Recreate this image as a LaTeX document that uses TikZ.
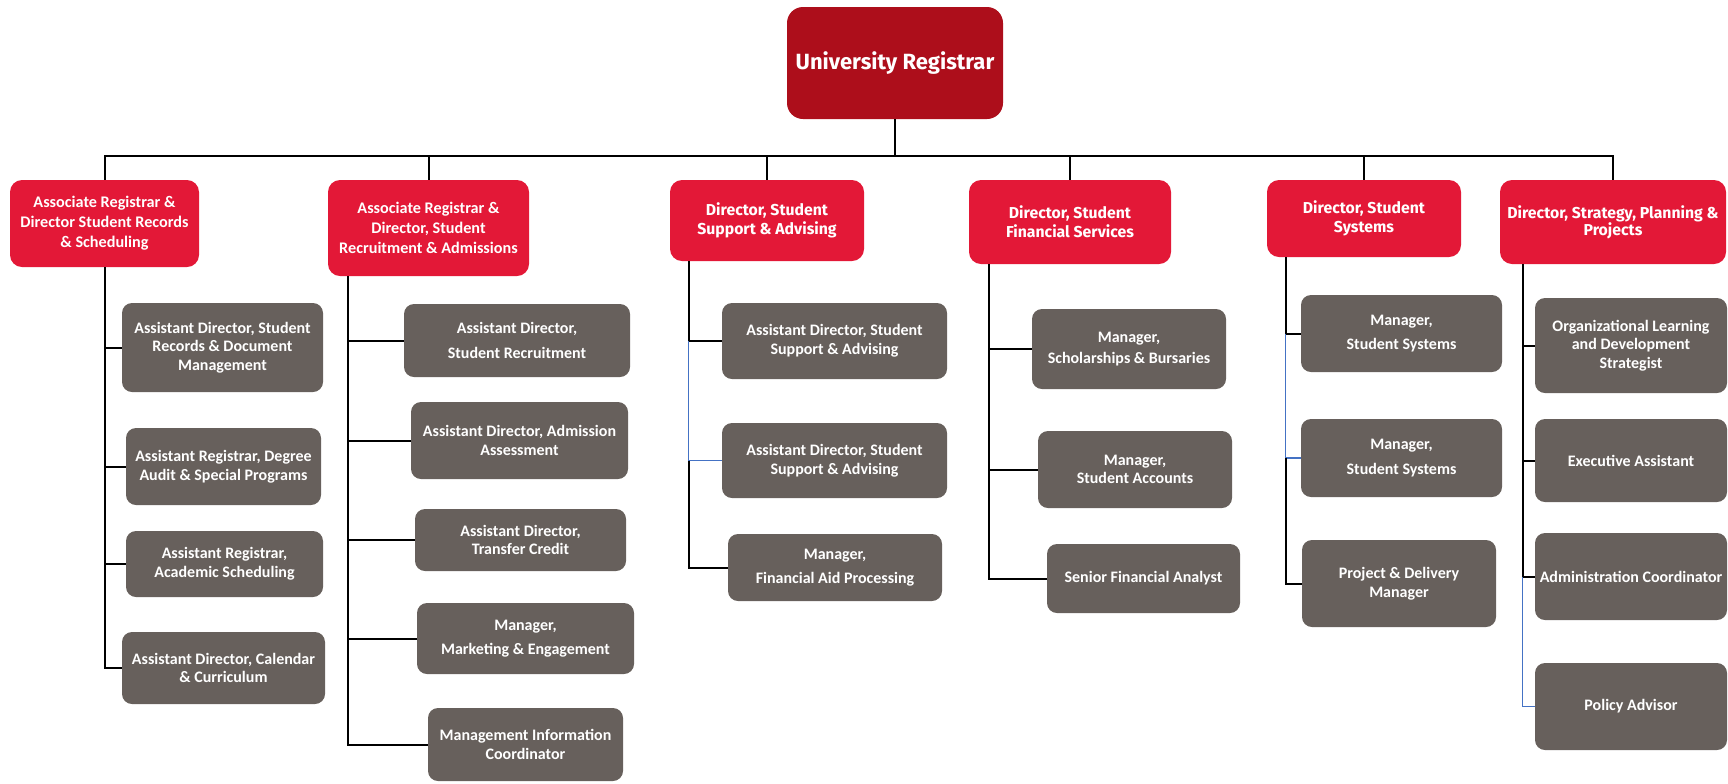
\documentclass[tikz,border=0pt]{standalone}
\usepackage{fontspec}
\setmainfont{Carlito}
\newfontfamily\plexfont{Fira Sans}
\usepackage{xcolor}
\definecolor{chiefred}{HTML}{AD0E1B}
\definecolor{dirred}{HTML}{E31837}
\definecolor{staffgray}{HTML}{67605C}
\definecolor{linkblue}{HTML}{4472C4}

\begin{document}
\begin{tikzpicture}[x=0.5pt,y=-0.5pt]
\tikzstyle{chief} = [rectangle, fill=chiefred, rounded corners=8pt, text=white,
align=center, inner sep=1pt, font=\plexfont\bfseries\fontsize{11}{13}\selectfont]
\tikzstyle{director} = [rectangle, fill=dirred, rounded corners=6pt, text=white,
align=center, inner sep=1pt, font=\bfseries\fontsize{8.1}{10}\selectfont]
\tikzstyle{director_plex} = [director, font=\plexfont\bfseries\fontsize{7.9}{9.5}\selectfont]
\tikzstyle{staff} = [rectangle, fill=staffgray, rounded corners=5pt, text=white,
align=center, inner sep=1pt, font=\bfseries\fontsize{8}{9.3}\selectfont]
\tikzstyle{line} = [draw, line width=1pt];
\tikzstyle{blueline} = [draw=linkblue, line width=0.85pt];
\useasboundingbox (0,0) rectangle (1728,783);

\node [chief, minimum width=108pt, minimum height=56pt] (registrar) at (895,63) {University Registrar};

% row 1
\node [director, minimum width=94.5pt, minimum height=43.5pt] (records) at (104.5,223.5)
{Associate Registrar \&\\ Director Student Records\\ \& Scheduling};
\node [director, minimum width=100.5pt, minimum height=48pt] (recruit) at (428.5,228)
{Associate Registrar \&\\ Director, Student\\ Recruitment \& Admissions};
\node [director_plex, minimum width=97pt, minimum height=40.5pt] (support) at (767,220.5)
{Director, Student\\ Support \& Advising};
\node [director_plex, minimum width=101pt, minimum height=42pt] (finance) at (1070,222)
{Director, Student\\ Financial Services};
\node [director_plex, minimum width=97pt, minimum height=38.5pt] (systems) at (1364,218.5)
{Director, Student\\ Systems};
\node [director_plex, minimum width=113pt, minimum height=42pt, font=\plexfont\bfseries\fontsize{7.9}{8.4}\selectfont] (strategy) at (1613,222)
{Director, Strategy, Planning \&\\ Projects};

% records column
\node [staff, minimum width=100.5pt, minimum height=44.5pt] (docs) at (222.5,347.5)
{Assistant Director, Student\\ Records \& Document\\ Management};
\node [staff, minimum width=97.5pt, minimum height=38.5pt] (audit) at (223.5,466.5)
{Assistant Registrar, Degree\\ Audit \& Special Programs};
\node [staff, minimum width=98.5pt, minimum height=33pt] (sched) at (224.5,564)
{Assistant Registrar,\\ Academic Scheduling};
\node [staff, minimum width=101.5pt, minimum height=36pt] (calendar) at (223.5,668)
{Assistant Director, Calendar\\ \& Curriculum};

% recruitment column
\node [staff, minimum width=113pt, minimum height=36.5pt] (recruitment) at (517,340.5)
{Assistant Director,\\[3pt] Student Recruitment};
\node [staff, minimum width=108.5pt, minimum height=38.5pt] (admission) at (519.5,440.5)
{Assistant Director, Admission\\ Assessment};
\node [staff, minimum width=105.5pt, minimum height=31pt] (transfer) at (520.5,540)
{Assistant Director,\\ Transfer Credit};
\node [staff, minimum width=108.5pt, minimum height=35.5pt] (marketing) at (525.5,638.5)
{Manager,\\[3pt] Marketing \& Engagement};
\node [staff, minimum width=97.5pt, minimum height=36.5pt] (mis) at (525.5,744.5)
{Management Information\\ Coordinator};

% support column
\node [staff, minimum width=112.5pt, minimum height=38pt] (advisingA) at (834.5,341)
{Assistant Director, Student\\ Support \& Advising};
\node [staff, minimum width=112.5pt, minimum height=37.5pt] (advisingB) at (834.5,460.5)
{Assistant Director, Student\\ Support \& Advising};
\node [staff, minimum width=107pt, minimum height=33.5pt] (finaid) at (835,567.5)
{Manager,\\[3pt] Financial Aid Processing};

% finance column
\node [staff, minimum width=97pt, minimum height=40pt] (bursaries) at (1129,349)
{Manager,\\[1pt] Scholarships \& Bursaries};
\node [staff, minimum width=97pt, minimum height=38.5pt] (accounts) at (1135,469.5)
{Manager,\\ Student Accounts};
\node [staff, minimum width=96.5pt, minimum height=34.5pt] (analyst) at (1143.5,578.5)
{Senior Financial Analyst};

% systems column
\node [staff, minimum width=100.5pt, minimum height=38.5pt] (sysA) at (1401.5,333.5)
{Manager,\\[3pt] Student Systems};
\node [staff, minimum width=100.5pt, minimum height=39pt] (sysB) at (1401.5,458)
{Manager,\\[3pt] Student Systems};
\node [staff, minimum width=97pt, minimum height=43.5pt] (delivery) at (1399,583.5)
{Project \& Delivery\\ Manager};

% strategy column
\node [staff, minimum width=96pt, minimum height=47.5pt] (learning) at (1631,345.5)
{Organizational Learning\\ and Development\\ Strategist};
\node [staff, minimum width=96pt, minimum height=41.5pt] (exec) at (1631,460.5)
{Executive Assistant};
\node [staff, minimum width=96pt, minimum height=43.5pt] (admin) at (1631,576.5)
{Administration Coordinator};
\node [staff, minimum width=96pt, minimum height=43.5pt] (policy) at (1631,706.5)
{Policy Advisor};

\coordinate (bus) at (895,156);
\coordinate (t1) at (records.south);
\coordinate (t2) at ([xshift=10pt]recruit.south west);
\coordinate (t3) at ([xshift=9.5pt]support.south west);
\coordinate (t4) at ([xshift=10pt]finance.south west);
\coordinate (t5) at ([xshift=9.5pt]systems.south west);
\coordinate (t6) at ([xshift=11.5pt]strategy.south west);

\tikzstyle{every path}=[line]
\path (registrar.south) -- (bus);
\foreach \d in {records,recruit,support,finance,systems,strategy}
  \path (bus) -| (\d.north);

\path (t1) |- (calendar.west);
\foreach \g in {docs,audit,sched}
  \path (t1 |- \g.west) -- (\g.west);

\path (t2) |- (mis.west);
\foreach \g in {recruitment,admission,transfer,marketing}
  \path (t2 |- \g.west) -- (\g.west);

\path (t3) |- (advisingA.west);
\path [blueline] (t3 |- advisingA.west) |- (advisingB.west);
\path (t3 |- advisingB.west) |- (finaid.west);

\path (t4) |- (analyst.west);
\foreach \g in {bursaries,accounts}
  \path (t4 |- \g.west) -- (\g.west);

\path (t5) |- (sysA.west);
\path [blueline] (t5 |- sysA.west) |- (sysB.west);
\path (t5 |- sysB.west) |- (delivery.west);

\path (t6) |- (admin.west);
\foreach \g in {learning,exec}
  \path (t6 |- \g.west) -- (\g.west);
\path [blueline] (t6 |- admin.west) |- (policy.west);

\end{tikzpicture}
\end{document}
